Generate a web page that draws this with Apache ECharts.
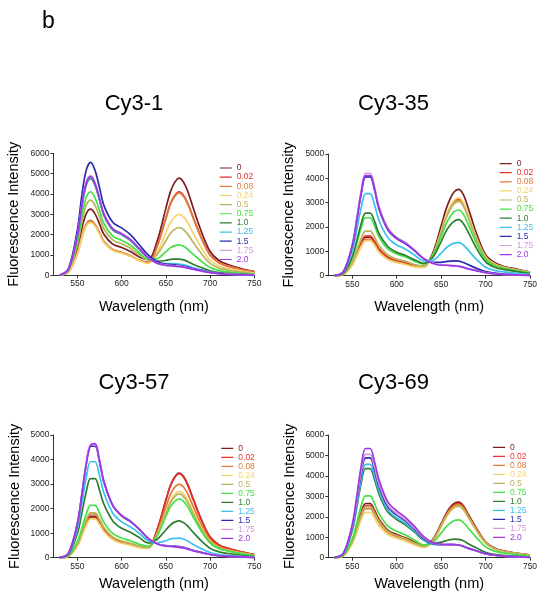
<!DOCTYPE html>
<html><head><meta charset="utf-8">
<script src="https://cdn.jsdelivr.net/npm/echarts@6/dist/echarts.min.js"></script>
<style>html,body{margin:0;padding:0;background:#fff}#c{width:549px;height:599px}</style>
</head><body><div id="c"></div>
<script>
// ---------- DATA ----------
const wavelengths = [530,540,550,555,560,565,570,575,580,590,600,610,620,630,640,650,655,660,665,670,675,680,690,700,710,720,735,750];
const concentrations = ['0','0.02','0.08','0.24','0.5','0.75','1.0','1.25','1.5','1.75','2.0'];
const xTickValues = [550,600,650,700,750];
const panelTitles = ['Cy3-1','Cy3-35','Cy3-57','Cy3-69'];
const yMaxes = [6000,5000,5000,6000];

const cy3_1 = [
 [0,200,1300,2280,3020,3250,3020,2540,2020,1530,1370,1170,900,770,1660,3290,4090,4570,4780,4580,4100,3430,2160,1170,730,530,330,180],
 [0,160,1060,1860,2460,2650,2460,2070,1640,1250,1110,950,740,630,1410,2820,3510,3920,4100,3930,3520,2950,1860,1000,620,450,290,160],
 [0,160,1080,1890,2510,2700,2510,2110,1670,1270,1130,970,750,640,1400,2780,3460,3870,4050,3880,3470,2910,1830,990,620,450,280,150],
 [0,160,1040,1820,2420,2600,2420,2030,1610,1220,1090,940,720,580,1090,2090,2580,2870,3000,2870,2570,2150,1360,740,460,330,210,110],
 [0,220,1480,2590,3440,3700,3440,2890,2290,1740,1550,1330,1010,750,1020,1700,2060,2260,2350,2250,2000,1680,1070,590,360,260,160,80],
 [0,250,1640,2870,3810,4100,3810,3200,2540,1930,1720,1480,1110,790,820,1160,1350,1460,1500,1430,1270,1070,690,380,240,170,100,50],
 [0,290,1900,3330,4420,4750,4420,3710,2950,2230,2000,1710,1290,870,690,730,780,800,800,760,670,560,380,220,130,90,50,20],
 [0,290,1920,3360,4460,4800,4460,3740,2980,2260,2020,1730,1300,870,620,570,570,570,550,520,450,380,270,160,100,70,40,10],
 [0,330,2220,3890,5160,5550,5160,4330,3440,2610,2330,2000,1500,1000,680,550,530,510,480,450,400,330,240,150,90,60,30,0],
 [0,290,1960,3430,4560,4900,4560,3820,3040,2300,2060,1760,1320,880,600,510,490,470,450,430,370,310,220,140,80,60,30,0],
 [0,290,1940,3400,4510,4850,4510,3780,3010,2280,2040,1750,1310,870,590,490,470,450,430,400,350,300,210,130,80,50,30,0]
];
const cy3_35 = [
 [0,60,480,880,1310,1580,1580,1380,1070,740,590,510,400,380,880,2040,2680,3150,3460,3550,3330,2830,1710,860,540,390,270,150],
 [0,70,500,910,1350,1630,1630,1420,1110,760,610,530,410,370,800,1820,2390,2810,3070,3150,2960,2520,1520,770,480,350,240,140],
 [0,60,450,830,1230,1490,1490,1290,1000,690,560,480,380,350,780,1790,2350,2760,3020,3100,2910,2480,1500,760,470,340,230,130],
 [0,60,440,800,1190,1440,1440,1250,970,670,540,460,360,340,790,1840,2420,2840,3110,3200,3000,2550,1540,780,490,350,240,140],
 [0,70,560,1020,1520,1830,1830,1590,1240,850,680,590,460,400,800,1780,2320,2720,2970,3050,2860,2430,1470,740,460,340,230,130],
 [0,100,720,1320,1970,2380,2380,2060,1610,1100,890,770,600,480,790,1610,2080,2420,2640,2700,2530,2150,1310,670,410,300,200,110],
 [0,100,780,1430,2130,2570,2570,2240,1740,1200,960,830,650,510,730,1400,1790,2070,2250,2300,2140,1820,1110,570,350,260,170,90],
 [0,140,1020,1870,2790,3370,3370,2920,2280,1560,1260,1090,850,610,630,930,1120,1260,1340,1360,1260,1070,660,350,220,160,100,50],
 [0,160,1230,2260,3360,4060,4060,3530,2750,1890,1520,1310,1030,710,550,550,580,600,610,600,540,460,300,170,110,70,40,10],
 [0,170,1280,2340,3490,4210,4210,3660,2850,1960,1570,1360,1060,720,530,450,440,430,420,400,350,300,210,130,80,50,30,0],
 [0,170,1250,2280,3400,4110,4110,3570,2780,1910,1540,1330,1040,710,510,430,430,410,400,380,340,280,200,120,70,50,30,0]
];
const cy3_57 = [
 [0,70,510,940,1390,1680,1680,1450,1140,780,630,540,440,420,1130,2350,2930,3290,3450,3310,2960,2480,1560,840,520,380,240,130],
 [0,70,500,910,1350,1630,1630,1400,1110,760,610,530,430,410,1120,2330,2910,3270,3420,3280,2940,2460,1550,830,520,380,240,130],
 [0,70,540,990,1480,1780,1780,1530,1210,830,670,580,460,420,1020,2060,2560,2870,3000,2880,2580,2160,1360,730,460,330,210,110],
 [0,60,480,880,1310,1580,1580,1360,1070,740,590,510,410,380,910,1850,2300,2580,2700,2590,2310,1940,1220,660,410,300,190,100],
 [0,70,560,1020,1520,1830,1830,1570,1240,850,680,590,480,410,910,1790,2220,2490,2600,2490,2230,1870,1180,630,400,290,180,100],
 [0,90,650,1180,1760,2130,2130,1830,1440,990,800,690,550,460,880,1680,2070,2300,2400,2300,2060,1720,1090,590,370,270,170,90],
 [0,130,980,1790,2670,3220,3220,2760,2180,1500,1200,1040,820,600,740,1130,1330,1450,1500,1430,1280,1070,690,380,240,170,100,50],
 [0,160,1190,2170,3240,3910,3910,3360,2650,1820,1460,1260,990,690,610,690,760,790,800,760,670,560,370,210,130,90,50,20],
 [0,180,1380,2530,3770,4550,4550,3910,3080,2120,1700,1470,1150,790,570,490,480,470,450,420,370,310,220,130,80,60,30,0],
 [0,190,1400,2560,3810,4600,4600,3950,3120,2140,1720,1490,1160,790,580,480,470,450,430,410,350,300,210,130,80,50,30,0],
 [0,190,1390,2550,3800,4580,4650,3980,3120,2140,1720,1490,1160,790,570,470,460,440,420,400,350,290,210,130,80,50,30,0]
];
const cy3_69 = [
 [0,110,810,1490,2210,2650,2650,2320,1890,1350,1130,970,760,590,860,1660,2110,2450,2660,2720,2540,2160,1420,770,470,330,220,130],
 [0,100,780,1430,2130,2550,2550,2240,1820,1300,1090,940,730,570,830,1610,2050,2390,2590,2660,2480,2110,1380,750,460,320,210,120],
 [0,100,740,1350,2010,2400,2400,2110,1720,1230,1030,880,690,540,800,1580,2010,2340,2540,2600,2430,2070,1360,740,450,310,210,120],
 [0,90,680,1240,1850,2210,2210,1940,1580,1130,950,810,630,500,760,1510,1930,2240,2440,2500,2340,1990,1300,710,430,300,200,120],
 [0,100,770,1400,2090,2500,2500,2190,1790,1280,1070,920,710,560,800,1550,1980,2290,2490,2550,2380,2030,1330,720,440,310,200,120],
 [0,120,920,1690,2530,3020,3020,2650,2160,1540,1290,1110,860,630,720,1200,1480,1690,1820,1850,1720,1470,970,530,320,230,150,80],
 [0,180,1340,2450,3650,4360,4360,3830,3120,2230,1870,1600,1250,860,690,760,820,880,910,900,830,700,470,270,160,110,70,30],
 [0,190,1400,2560,3810,4560,4560,4000,3260,2330,1950,1670,1300,890,660,610,620,630,630,620,560,470,330,190,120,80,50,10],
 [0,200,1490,2740,4080,4880,4880,4280,3490,2490,2090,1790,1390,950,700,640,630,640,640,620,560,470,330,200,120,80,50,10],
 [0,210,1550,2830,4220,5050,5050,4430,3610,2580,2160,1850,1440,990,720,640,630,640,640,620,550,470,330,190,120,80,40,10],
 [0,220,1640,3000,4470,5340,5340,4690,3820,2730,2290,1960,1530,1040,750,660,650,650,640,620,550,470,330,200,120,80,40,10]
];
const panelData = [cy3_1, cy3_35, cy3_57, cy3_69];

// ---------- STYLE / LAYOUT ----------
const colors = ['#7a1f1f','#e8302a','#e07b39','#f5d36b','#b9b45c','#45e045','#2f7d2f','#3cc0ec','#2b2bb0','#d39bd8','#9b35e6'];
const FONT = '"Liberation Sans", Arial, Helvetica, sans-serif';
const LEG_ICON = 'path://M0,0L1,0L1,0.01Z M0,4L20,4L20,6L0,6Z M0,10L1,10L1,9.99Z';
const layout = [
  {left:53.4, top:153.3, width:201, height:122, tx:134, ty:104, legLeft:219.7, legTop:163.5, legH:8, legGap:0.15, xGap:24, yGap:32},
  {left:328.3, top:154, width:201.7, height:121.7, tx:393.5, ty:104, legLeft:499.7, legTop:159.1, legH:9, legGap:0.1, xGap:24, yGap:32},
  {left:53.4, top:435, width:201, height:122.7, tx:134, ty:383, legLeft:221.3, legTop:443.9, legH:8.8, legGap:0, xGap:19, yGap:31},
  {left:328.3, top:435, width:201.7, height:122.7, tx:393.5, ty:383, legLeft:493, legTop:442.8, legH:9, legGap:0, xGap:19, yGap:31}
];

const grids = [], xAxes = [], yAxes = [], legends = [], series = [], graphics = [];
graphics.push({type:'text', style:{text:'b', x:42, y:22, align:'left', verticalAlign:'middle', fontSize:23, fontFamily:FONT, fill:'#000'}});

layout.forEach((L, p) => {
  grids.push({left:L.left, top:L.top, width:L.width, height:L.height, containLabel:false});
  xAxes.push({
    type:'value', gridIndex:p, min:523, max:750,
    name:'Wavelength (nm)', nameLocation:'middle', nameGap:L.xGap,
    nameTextStyle:{fontSize:14.5, color:'#000', fontFamily:FONT},
    axisLine:{show:true, onZero:false, lineStyle:{color:'#333', width:1}},
    axisTick:{show:true, inside:false, length:3, customValues:xTickValues, lineStyle:{color:'#333'}},
    axisLabel:{show:true, margin:4, fontSize:8.5, color:'#222', fontFamily:FONT, customValues:xTickValues, formatter:v=>String(v)},
    splitLine:{show:false}
  });
  yAxes.push({
    type:'value', gridIndex:p, min:0, max:yMaxes[p], interval:1000,
    name:'Fluorescence Intensity', nameLocation:'middle', nameGap:L.yGap,
    nameTextStyle:{fontSize:14.5, color:'#000', fontFamily:FONT},
    axisLine:{show:true, lineStyle:{color:'#333', width:1}},
    axisTick:{show:true, inside:false, length:3, lineStyle:{color:'#333'}},
    axisLabel:{show:true, margin:4, fontSize:8.5, color:'#222', fontFamily:FONT, formatter:v=>String(v)},
    splitLine:{show:false}
  });
  graphics.push({type:'text', style:{text:panelTitles[p], x:L.tx, y:L.ty, align:'center', verticalAlign:'middle', fontSize:22, fontFamily:FONT, fill:'#000'}});
  legends.push({
    orient:'vertical', left:L.legLeft, top:L.legTop, itemWidth:12, itemHeight:L.legH, itemGap:L.legGap,
    padding:0, selectedMode:false, icon:LEG_ICON,
    textStyle:{fontSize:8.5, fontFamily:FONT, lineHeight:L.legH},
    data: concentrations.map((c,i)=>({name:c, icon:LEG_ICON, textStyle:{color:colors[i]}}))
  });
  panelData[p].forEach((row, i) => {
    series.push({
      type:'line', name:concentrations[i], xAxisIndex:p, yAxisIndex:p,
      data: wavelengths.map((w,k)=>[w,row[k]]),
      symbol:'none', smooth:0.35,
      lineStyle:{width:1.7, color:colors[i]}, itemStyle:{color:colors[i]},
      emphasis:{disabled:true}, z:2+i
    });
  });
});

const chart = echarts.init(document.getElementById('c'), null, {renderer:'canvas'});
chart.setOption({
  animation:false, backgroundColor:'#fff',
  textStyle:{fontFamily:FONT},
  grid:grids, xAxis:xAxes, yAxis:yAxes, legend:legends, series:series, graphic:graphics
});
</script></body></html>
